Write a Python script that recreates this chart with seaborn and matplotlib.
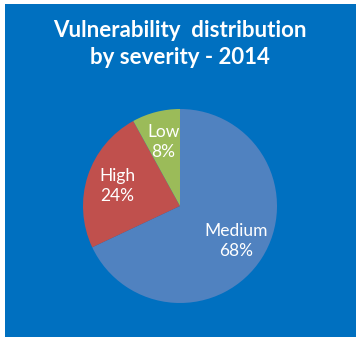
import matplotlib
matplotlib.use("Agg")
import matplotlib.pyplot as plt
from matplotlib.patches import Rectangle
import seaborn as sns

categories = ["Medium", "High", "Low"]
shares = [68, 24, 8]
slice_colors = ["#5082C0", "#C0504D", "#9BBB59"]
title = "Vulnerability  distribution\nby severity - 2014"

sns.set_theme(style="white")
plt.rcParams["font.family"] = ["Lato", "DejaVu Sans"]

W, H = 358, 342
fig = plt.figure(figsize=(W / 100, H / 100), dpi=100)
fig.patch.set_facecolor("white")

# blue panel behind the chart
fig.patches.append(Rectangle((5 / W, 5 / H), 351 / W, 333 / H,
                             transform=fig.transFigure, facecolor="#0070C0",
                             edgecolor="none", zorder=-10))

cx, cy, r = 180, 206, 97
ax = fig.add_axes([(cx - r) / W, (H - cy - r) / H, 2 * r / W, 2 * r / H])
ax.set_facecolor("none")
ax.set_zorder(1)

labels = [f"{c}\n{v}%" for c, v in zip(categories, shares)]
wedges, texts = ax.pie(shares, labels=labels, colors=slice_colors,
                       startangle=90, counterclock=False,
                       labeldistance=0.68,
                       wedgeprops=dict(edgecolor="none", linewidth=0),
                       textprops=dict(color="white", fontsize=12.5,
                                      linespacing=1.3))
for t in texts:
    t.set_ha("center")
    t.set_va("center")
    t.set_multialignment("center")
ax.set_xlim(-1, 1)
ax.set_ylim(-1, 1)
ax.set_aspect("equal")
ax.axis("off")

fig.text(180 / W, 1 - 44 / H, title, ha="center", va="center",
         multialignment="center", color="white", fontsize=16,
         fontweight="bold", linespacing=1.4)

fig.savefig("out.png", dpi=100)
